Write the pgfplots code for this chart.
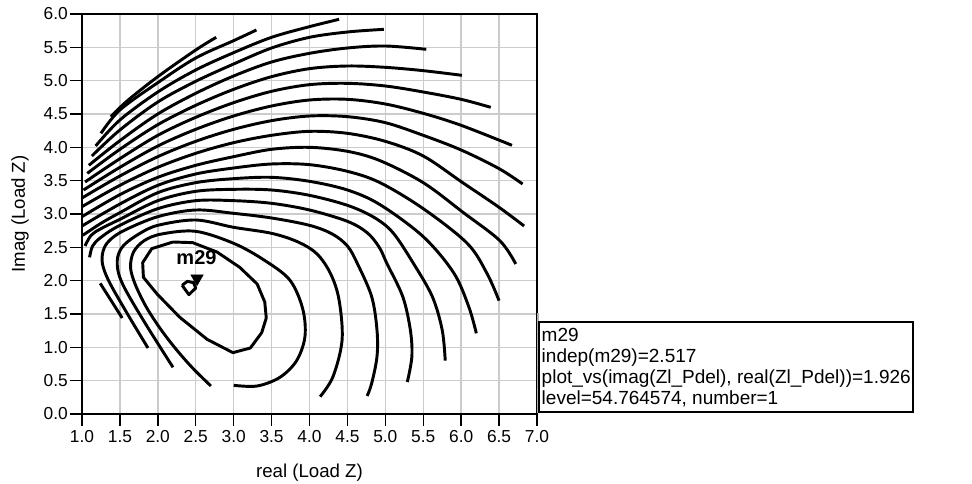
\documentclass[border=0pt]{standalone}
\usepackage{fontspec}
\setmainfont{Liberation Sans}
\usepackage{pgfplots}
\pgfplotsset{compat=1.18}
\tikzset{ct/.style={black, line width=2.2pt, smooth, tension=0.55, line join=round},
         cp/.style={black, line width=2.2pt, line join=round}}
\begin{document}
\begin{tikzpicture}
\useasboundingbox (-61.5pt,-52.5pt) rectangle (667.5pt,310.5pt);
\begin{axis}[
  at={(0,0)}, anchor=south west,
  scale only axis, width=341.25pt, height=300pt,
  xmin=1, xmax=7, ymin=0, ymax=6,
  xtick={1,1.5,2,2.5,3,3.5,4,4.5,5,5.5,6,6.5,7},
  ytick={0,0.5,1,1.5,2,2.5,3,3.5,4,4.5,5,5.5,6},
  grid=major, grid style={gray!40, line width=1.1pt},
  tick align=outside, tick pos=left, major tick length=9pt,
  tick style={black, line width=1.1pt},
  axis line style={black, line width=1.1pt},
  xticklabel style={font=\fontsize{13}{13}\selectfont},
  yticklabel style={font=\fontsize{13}{13}\selectfont, inner sep=1.5pt},
  /pgf/number format/fixed, /pgf/number format/fixed zerofill,
  /pgf/number format/precision=1, /pgf/number format/assume math mode=true,
]
% innermost loops
\addplot[cp] coordinates {(2.32,1.93) (2.39,1.99) (2.47,1.97) (2.50,1.89) (2.41,1.79) (2.32,1.93)};
\addplot[cp] coordinates {(2.20,2.58) (2.46,2.57) (2.78,2.43) (3.08,2.20) (3.31,1.95) (3.41,1.68) (3.43,1.44) (3.37,1.22) (3.22,0.99) (2.99,0.92) (2.65,1.12) (2.29,1.45) (1.99,1.80) (1.81,2.05) (1.80,2.27) (1.92,2.48) (2.20,2.58)};
\addplot[ct] coordinates {(2.70,0.42) (2.45,0.70) (2.22,1.00) (2.02,1.30) (1.84,1.62) (1.70,1.95) (1.64,2.20) (1.68,2.43) (1.82,2.60) (2.05,2.70) (2.50,2.74) (3.00,2.56) (3.40,2.31) (3.74,2.01) (3.91,1.58) (3.94,1.16) (3.83,0.80) (3.61,0.55) (3.31,0.42) (3.00,0.43)};
% K1
\addplot[ct] coordinates {(2.20,0.70) (1.85,1.33) (1.58,1.85) (1.48,2.12) (1.47,2.35) (1.55,2.53) (1.75,2.70) (2.00,2.83) (2.50,2.91) (3.00,2.80) (3.50,2.71) (3.85,2.58) (4.10,2.40) (4.28,2.10) (4.39,1.71) (4.43,1.11) (4.31,0.56) (4.14,0.26)};
% K2
\addplot[ct] coordinates {(1.87,0.99) (1.60,1.50) (1.36,1.98) (1.27,2.25) (1.28,2.45) (1.36,2.60) (1.55,2.75) (2.00,2.96) (2.50,3.06) (3.00,3.01) (3.50,2.94) (4.00,2.83) (4.30,2.70) (4.50,2.52) (4.63,2.26) (4.82,1.76) (4.89,1.26) (4.89,0.86) (4.82,0.46) (4.76,0.27)};
% K3
\addplot[ct] coordinates {(1.24,1.96) (1.53,1.44)};
\addplot[ct] coordinates {(1.10,2.35) (1.14,2.52) (1.25,2.65) (1.50,2.83) (2.00,3.08) (2.50,3.20) (3.00,3.20) (3.50,3.16) (4.00,3.06) (4.50,2.89) (4.76,2.72) (4.92,2.50) (5.02,2.26) (5.23,1.76) (5.33,1.26) (5.35,0.86) (5.29,0.48)};
% K4
\addplot[ct] coordinates {(1.04,2.52) (1.12,2.68) (1.25,2.78) (1.50,2.92) (2.00,3.20) (2.50,3.34) (3.00,3.37) (3.50,3.36) (4.00,3.28) (4.50,3.13) (4.85,2.95) (5.10,2.72) (5.37,2.26) (5.62,1.76) (5.75,1.26) (5.79,0.80)};
% K5
\addplot[ct] coordinates {(1.01,2.68) (1.25,2.86) (1.50,3.02) (2.00,3.32) (2.50,3.47) (3.00,3.53) (3.50,3.55) (4.00,3.49) (4.50,3.36) (4.93,3.14) (5.50,2.66) (5.90,2.12) (6.10,1.61) (6.20,1.21)};
% K6
\addplot[ct] coordinates {(1.00,2.82) (1.50,3.15) (2.00,3.43) (2.50,3.60) (3.00,3.69) (3.50,3.75) (4.00,3.74) (4.50,3.64) (4.93,3.47) (5.50,3.08) (6.08,2.56) (6.34,2.11) (6.50,1.70)};
% K7
\addplot[ct] coordinates {(1.00,2.96) (1.50,3.29) (2.00,3.55) (2.50,3.73) (3.00,3.86) (3.50,3.97) (4.00,4.00) (4.50,3.94) (4.93,3.80) (5.50,3.47) (6.03,3.02) (6.51,2.60) (6.72,2.25)};
% K8
\addplot[ct] coordinates {(1.00,3.11) (1.50,3.43) (2.00,3.70) (2.50,3.91) (3.00,4.07) (3.50,4.18) (4.00,4.24) (4.50,4.21) (5.00,4.09) (5.50,3.87) (6.02,3.47) (6.50,3.10) (6.83,2.82)};
% K9
\addplot[ct] coordinates {(1.00,3.24) (1.50,3.57) (2.00,3.86) (2.50,4.09) (3.00,4.27) (3.50,4.40) (4.00,4.47) (4.50,4.46) (5.00,4.37) (5.50,4.18) (6.00,3.96) (6.50,3.68) (6.81,3.45)};
% K10
\addplot[ct] coordinates {(1.02,3.36) (1.50,3.70) (2.00,4.02) (2.50,4.27) (3.00,4.47) (3.50,4.62) (4.00,4.71) (4.50,4.72) (5.00,4.65) (5.50,4.51) (6.00,4.33) (6.67,4.03)};
% K11
\addplot[ct] coordinates {(1.04,3.48) (1.50,3.83) (2.00,4.18) (2.50,4.45) (3.00,4.67) (3.50,4.84) (4.00,4.94) (4.50,4.96) (5.00,4.92) (5.50,4.83) (6.00,4.72) (6.39,4.60)};
% K12
\addplot[ct] coordinates {(1.07,3.61) (1.50,3.97) (2.00,4.34) (2.50,4.63) (3.00,4.87) (3.50,5.06) (4.00,5.18) (4.50,5.22) (5.00,5.20) (5.50,5.15) (6.01,5.08)};
% K13
\addplot[ct] coordinates {(1.09,3.73) (1.50,4.10) (2.00,4.50) (2.50,4.81) (3.00,5.07) (3.50,5.28) (4.00,5.41) (4.50,5.49) (5.00,5.52) (5.54,5.47)};
% K14
\addplot[ct] coordinates {(1.13,3.87) (1.50,4.26) (2.00,4.68) (2.50,4.99) (3.00,5.25) (3.50,5.49) (4.00,5.65) (4.50,5.73) (4.98,5.77)};
% K15
\addplot[ct] coordinates {(1.18,4.02) (1.50,4.41) (2.00,4.83) (2.50,5.16) (3.00,5.42) (3.50,5.65) (4.00,5.81) (4.39,5.92)};
% K16
\addplot[ct] coordinates {(1.25,4.21) (1.50,4.56) (2.00,4.97) (2.50,5.34) (3.00,5.60) (3.30,5.76)};
% K17
\addplot[ct] coordinates {(1.38,4.46) (1.60,4.70) (2.00,5.06) (2.50,5.46) (2.77,5.65)};
% marker
\addplot[only marks, mark=triangle*, mark size=5.3pt,
  mark options={fill=black, draw=black, line width=0.4pt, yshift=5.3pt, rotate=180}]
  coordinates {(2.517,1.926)};
\node[anchor=base, font=\bfseries\fontsize{15}{15}\selectfont] at (axis cs:2.51,2.235) {m29};
\end{axis}
\node[anchor=base, font=\fontsize{14}{14}\selectfont] at (170.6pt,-48pt) {real (Load Z)};
\node[anchor=base, rotate=90, font=\fontsize{14}{14}\selectfont] at (-42.75pt,150pt) {Imag (Load Z)};
\fill[gray!60] (341.25pt,0.75pt) rectangle (343pt,75.75pt);
\draw[black, line width=0.8pt] (342.75pt,1.5pt) rectangle (623.25pt,69pt);
\begin{scope}[every node/.style={anchor=base west, inner sep=0pt, font=\fontsize{14.25}{14.25}\selectfont}]
\node at (344.6pt,54.2pt) {m29};
\node at (344.6pt,38.5pt) {indep(m29)=2.517};
\node at (344.6pt,22.7pt) {plot\_vs(imag(Zl\_Pdel), real(Zl\_Pdel))=1.926};
\node at (344.6pt,7.0pt) {level=54.764574, number=1};
\end{scope}
\end{tikzpicture}
\end{document}
